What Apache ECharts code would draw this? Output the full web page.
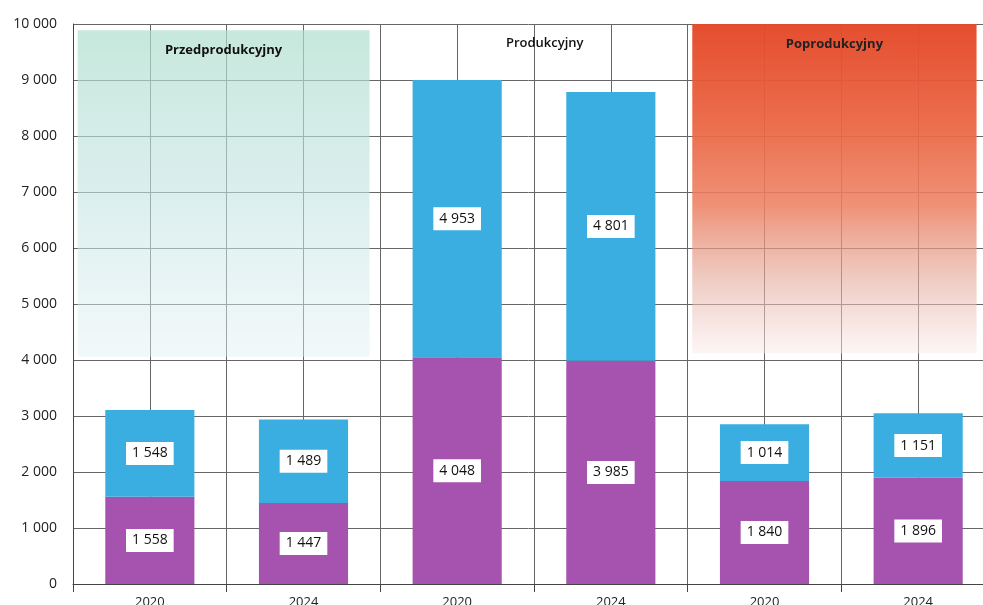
<!DOCTYPE html>
<html><head><meta charset="utf-8">
<script src="https://cdn.jsdelivr.net/npm/echarts@6/dist/echarts.min.js"></script>
<style>html,body{margin:0;padding:0;background:#fff}#c{width:983px;height:605px}</style>
</head><body><div id="c"></div>
<script>
var categories = ['2020','2024','2020','2024','2020','2024'];
var bottomValues = [1558, 1447, 4048, 3985, 1840, 1896];
var topValues = [1548, 1489, 4953, 4801, 1014, 1151];
var yTicks = [0,1000,2000,3000,4000,5000,6000,7000,8000,9000,10000];
var phaseNames = ['Przedprodukcyjny','Produkcyjny','Poprodukcyjny'];

function fmt(v){ return String(v).replace(/\B(?=(\d{3})+(?!\d))/g,' '); }
var halfCats = []; for (var i=0;i<categories.length*2;i++) halfCats.push('h'+i);
var FF = 'Open Sans, Noto Sans, sans-serif';

var chart = echarts.init(document.getElementById('c'));
var lbl = {show:true, position:'inside', color:'#111', fontSize:14, fontFamily:FF,
  backgroundColor:'#fff', padding:[5,6,4,6], formatter:function(p){return fmt(p.value);}};
chart.setOption({
  animation:false,
  grid:{left:73, width:922, top:24, bottom:21, containLabel:false, outerBoundsMode:'none'},
  xAxis:[
    {type:'category', data:categories, axisLine:{lineStyle:{color:'#444'}},
     axisTick:{show:true, length:8, lineStyle:{color:'#444'}},
     axisLabel:{color:'#222', fontSize:13, margin:12, fontFamily:FF}, splitLine:{show:false}},
    {type:'category', data:halfCats, show:true, position:'bottom', axisLine:{show:false}, axisTick:{show:false}, axisLabel:{show:false},
     splitLine:{show:true, lineStyle:{color:'#666', width:1}}},
    {type:'value', min:0, max:6, show:false}
  ],
  yAxis:{type:'value', min:yTicks[0], max:yTicks[yTicks.length-1], interval:1000,
    axisLine:{show:true, lineStyle:{color:'#444'}}, axisTick:{show:false},
    axisLabel:{color:'#222', fontSize:14, margin:16, fontFamily:FF, formatter:function(v){return fmt(v);}},
    splitLine:{lineStyle:{color:'#666', width:1}}},
  series:[
    {type:'scatter', xAxisIndex:2, data:[], silent:true, clip:false, z:1,
     markArea:{silent:true, data:[
       [{name:phaseNames[0], xAxis:0.03, yAxis:9890,
         itemStyle:{color:{type:'linear',x:0,y:0,x2:0,y2:1,colorStops:[{offset:0,color:'rgba(175,222,205,0.7)'},{offset:0.5,color:'rgba(195,228,226,0.6)'},{offset:1,color:'rgba(225,240,243,0.45)'}]}},
         label:{show:true, position:'insideTop', distance:14, color:'#111', fontWeight:'bold', fontSize:13, fontFamily:FF}},
        {xAxis:1.93, yAxis:4060}],
       [{name:phaseNames[1], xAxis:2.14, yAxis:9980, itemStyle:{color:'rgba(0,0,0,0)'},
         label:{show:true, position:'insideTop', distance:12, color:'#111', fontWeight:600, fontSize:13, fontFamily:FF}},
        {xAxis:4.0, yAxis:9000}],
       [{name:phaseNames[2], xAxis:4.03, yAxis:10040,
         itemStyle:{color:{type:'linear',x:0,y:0,x2:0,y2:1,colorStops:[{offset:0,color:'rgba(228,72,40,0.97)'},{offset:0.3,color:'rgba(234,100,65,0.94)'},{offset:0.55,color:'rgba(237,128,98,0.87)'},{offset:0.78,color:'rgba(228,170,155,0.6)'},{offset:1,color:'rgba(250,235,235,0.5)'}]}},
         label:{show:true, position:'insideTop', distance:14, color:'#222', fontWeight:'bold', fontSize:13, fontFamily:FF}},
        {xAxis:5.88, yAxis:4120}]
     ]}},
    {type:'bar', name:'a', stack:'s', data:bottomValues, barWidth:'58%', itemStyle:{color:'#A553AE'}, label:lbl, z:3},
    {type:'bar', name:'b', stack:'s', data:topValues, barWidth:'58%', itemStyle:{color:'#3AAEE0'}, label:lbl, z:3}
  ]
});
</script></body></html>
